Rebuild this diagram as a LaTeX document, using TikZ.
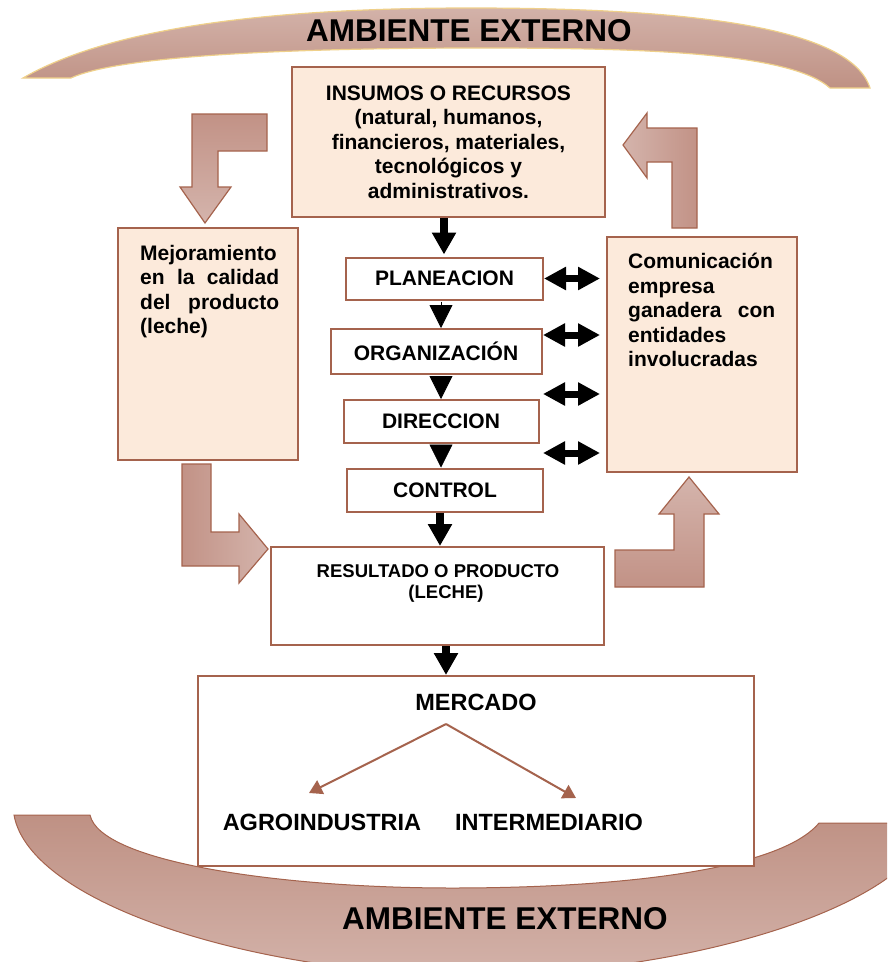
\documentclass[tikz,border=0pt]{standalone}
\usepackage{fontspec}
\setmainfont{Liberation Sans}
\usetikzlibrary{arrows.meta,calc}

\definecolor{boxfill}{HTML}{FCEADB}
\definecolor{boxline}{HTML}{A5634D}
\definecolor{blockdark}{HTML}{C29286}
\definecolor{blocklight}{HTML}{D4B4AC}
\definecolor{arclight}{HTML}{D3B2A9}
\definecolor{arcdark}{HTML}{BF9184}
\definecolor{arcgold}{HTML}{EFD08A}

\newcommand\txtbody{\fontsize{21}{24.5}\selectfont\bfseries}
\newcommand\txthead{\fontsize{31.5}{36}\selectfont\bfseries}
\newcommand\txtmarket{\fontsize{23.5}{28}\selectfont\bfseries}
\newcommand\txtsmall{\fontsize{18.5}{22}\selectfont\bfseries}

\begin{document}
\begin{tikzpicture}[x=1pt,y=-1pt,
  box/.style={draw=boxline, line width=2pt, fill=boxfill, rectangle, inner sep=0pt},
  stagebox/.style={draw=boxline, line width=2pt, fill=white, rectangle, inner sep=0pt, font=\txtbody},
  label/.style={inner sep=0pt, align=left, text width=#1},
  thickarrow/.style={line width=8pt, -{Triangle[width=23pt,length=22pt]}},
  headonly/.style={line width=0.8pt, -{Triangle[width=23pt,length=23pt]}, shorten <=1pt},
  twoway/.style={line width=7pt, {Triangle[width=22pt,length=22pt]}-{Triangle[width=22pt,length=22pt]}},
  blockarrow/.style={draw=boxline, line width=1.2pt, line join=miter},
  forkarrow/.style={draw=boxline, line width=2pt, -{Triangle[width=15pt,length=13pt]}}
]
\clip (0,0) rectangle (887,962);

% outer environment bands
\path[draw=arcgold, line width=1.2pt, top color=arclight, bottom color=arcdark]
  (23,78) .. controls (120,22) and (300,8) .. (470,8)
  .. controls (680,8) and (850,25) .. (870,88) -- (830,88)
  .. controls (790,52) and (640,48) .. (480,48)
  .. controls (300,48) and (120,55) .. (71,78) -- cycle;
\path[draw=boxline, line width=1pt, top color=arcdark, bottom color=arclight]
  (14,815) -- (90,815) .. controls (100,862) and (280,888) .. (452,888)
  .. controls (620,888) and (780,870) .. (819,823) -- (930,823)
  .. controls (915,905) and (690,975) .. (470,975)
  .. controls (260,975) and (30,905) .. (14,815) -- cycle;
\node[font=\txthead, inner sep=0pt] (ambtop) at (469,31) {AMBIENTE EXTERNO};
\node[font=\txthead, inner sep=0pt] (ambbot) at (505,919) {AMBIENTE EXTERNO};

% bent block arrows
\path[blockarrow, top color=blockdark, bottom color=blocklight]
  (192,114) -- (267,114) -- (267,151) -- (218,151) -- (218,187) -- (231,187)
  -- (205,223) -- (180,187) -- (192,187) -- cycle;
\path[blockarrow, left color=blocklight, right color=blockdark]
  (697,228) -- (697,128) -- (647,128) -- (647,113) -- (623,145) -- (647,178)
  -- (647,162) -- (672,162) -- (672,228) -- cycle;
\path[blockarrow, left color=blockdark, right color=blocklight]
  (182,464) -- (211,464) -- (211,532) -- (239,532) -- (239,514) -- (268,549)
  -- (239,583) -- (239,566) -- (182,566) -- cycle;
\path[blockarrow, top color=blocklight, bottom color=blockdark]
  (615,587) -- (704,587) -- (704,514) -- (719,514) -- (689,477) -- (659,514)
  -- (674,514) -- (674,550) -- (615,550) -- cycle;

% inputs
\node[box, minimum width=313pt, minimum height=150pt, align=center, font=\txtbody] (insumos) at (448.5,142)
  {INSUMOS O RECURSOS\\(natural, humanos,\\financieros, materiales,\\tecnológicos y\\administrativos.};

% side boxes
\node[box, minimum width=180pt, minimum height=232pt] (mejora) at (208,344) {};
\node[label=139pt, font=\txtbody, anchor=north west] (mejoratxt) at (140,245)
  {Mejoramiento\\en \hfill la \hfill calidad\\del \hfill producto\\(leche)};
\node[box, minimum width=190pt, minimum height=235pt] (comunica) at (702,354.5) {};
\node[label=147pt, font=\txtbody, anchor=north west] (comunicatxt) at (628,253)
  {Comunicación\\empresa\\ganadera \hfill con\\entidades\\involucradas};

% management stages
\node[stagebox, minimum width=197pt, minimum height=42pt] (plan) at (444.5,278.5) {PLANEACION};
\node[stagebox, minimum width=211pt, minimum height=45pt] (org) at (436,351.5) {ORGANIZACIÓN};
\node[stagebox, minimum width=195pt, minimum height=43pt] (dir) at (441,421.5) {DIRECCION};
\node[stagebox, minimum width=196pt, minimum height=43pt] (ctrl) at (445,490) {CONTROL};

% result and market
\node[stagebox, minimum width=333pt, minimum height=98pt] (resultado) at (437.5,596) {};
\node[font=\txtsmall, inner sep=0pt] (restxt) at (438,571) {RESULTADO O PRODUCTO};
\node[font=\txtsmall, inner sep=0pt] (leche) at (446,594) {(LECHE)};
\node[stagebox, minimum width=556pt, minimum height=190pt] (mercadobox) at (476,771) {};
\node[font=\txtmarket, inner sep=0pt] (mercado) at (476,702) {MERCADO};
\node[font=\txtmarket, inner sep=0pt] (agro) at (322,822) {AGROINDUSTRIA};
\node[font=\txtmarket, inner sep=0pt] (inter) at (549,822) {INTERMEDIARIO};

% black flow arrows
\coordinate (axis) at (441,0);
\draw[thickarrow, shorten >=2pt] (insumos.south -| 444,0) -- (plan.north -| 444,0);
\draw[headonly] (plan.south -| axis) -- (org.north -| axis);
\draw[headonly] (org.south -| axis) -- (dir.north -| axis);
\draw[headonly] (dir.south -| axis) -- (ctrl.north -| axis);
\draw[thickarrow] (ctrl.south -| 440,0) -- (resultado.north -| 440,0);
\draw[thickarrow] (resultado.south -| 446,0) -- (mercadobox.north -| 446,0);

% two-way links with the communication box
\coordinate (link2) at (543,335);
\coordinate (link3) at (543,394);
\coordinate (link4) at (543,453);
\draw[twoway, shorten >=6pt] (plan.east) -- (plan.east -| comunica.west);
\draw[twoway, shorten >=6pt] (link2) -- (link2 -| comunica.west);
\draw[twoway, shorten >=6pt] (link3) -- (link3 -| comunica.west);
\draw[twoway, shorten >=6pt] (link4) -- (link4 -| comunica.west);

% market split
\coordinate (fork) at (446,724);
\coordinate (toagro) at (309,793);
\coordinate (tointer) at (576,798);
\draw[forkarrow] (fork) -- (toagro);
\draw[forkarrow] (fork) -- (tointer);
\end{tikzpicture}
\end{document}
